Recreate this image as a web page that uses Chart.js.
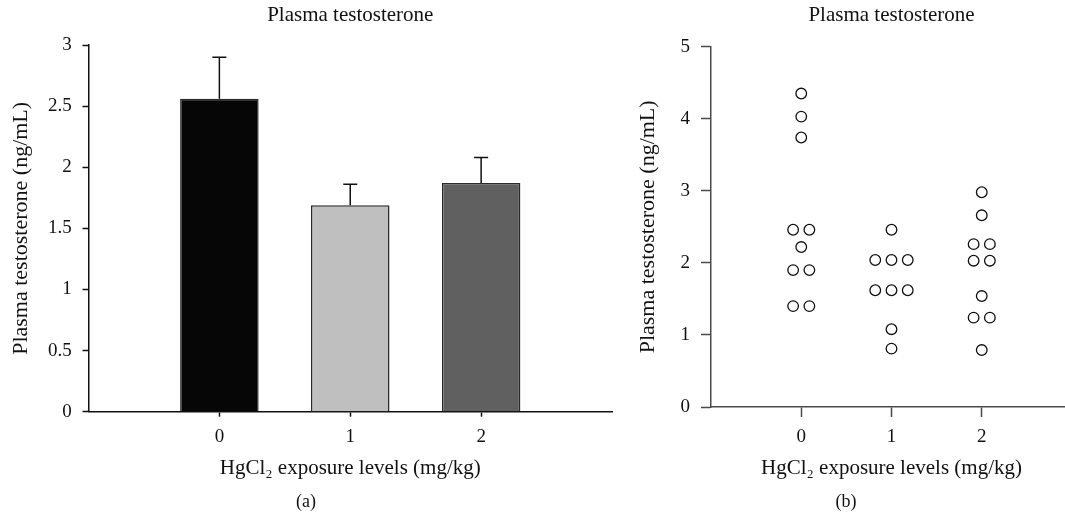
<!DOCTYPE html>
<html>
<head>
<meta charset="utf-8">
<script src="https://cdn.jsdelivr.net/npm/chart.js@4"></script>
<style>
  html, body { margin: 0; padding: 0; background: #fff; overflow: hidden; }
  #wrap { position: relative; width: 1065px; height: 522px; overflow: hidden; }
  #chartA { position: absolute; left: 0; top: 0; }
  #chartB { position: absolute; left: 620px; top: 0; }
</style>
</head>
<body>
<div id="wrap">
  <canvas id="chartA" width="620" height="522"></canvas>
  <canvas id="chartB" width="460" height="522"></canvas>
</div>
<script>
// HgCl2 dose groups (mg/kg)
var levels = [0, 1, 2];

// (a) mean and SE per group
var meanValues = [2.56, 1.69, 1.87];
var errorValues = [0.34, 0.17, 0.21];
var yTicksA = [0, 0.5, 1, 1.5, 2, 2.5, 3];

// (b) individual animals per group
var group0 = [4.35, 4.03, 3.74, 2.46, 2.46, 2.22, 1.90, 1.90, 1.40, 1.40];
var group1 = [2.46, 2.04, 2.04, 2.04, 1.62, 1.62, 1.62, 1.08, 0.81];
var group2 = [2.98, 2.66, 2.26, 2.26, 2.03, 2.03, 1.54, 1.24, 1.24, 0.79];
var yTicksB = [0, 1, 2, 3, 4, 5];

Chart.defaults.font.family = "'Liberation Serif', 'DejaVu Serif', serif";
Chart.defaults.color = '#1a1a1a';

function fixedTicks(values) {
  return function (scale) {
    scale.ticks = values.map(function (v) { return { value: v }; });
  };
}

// equal readings are put side by side, like in a dot plot
function spread(values, group, step) {
  return values.map(function (v, i) {
    var same = values.filter(function (w) { return w === v; }).length;
    var k = values.slice(0, i).filter(function (w) { return w === v; }).length;
    return { x: group + (k - (same - 1) / 2) * step, y: v };
  });
}

var errorBars = {
  id: 'errorBars',
  afterDatasetsDraw: function (chart) {
    var ctx = chart.ctx;
    var yScale = chart.scales.y;
    ctx.save();
    ctx.strokeStyle = '#111';
    ctx.lineWidth = 1.5;
    chart.getDatasetMeta(0).data.forEach(function (bar, i) {
      var top = yScale.getPixelForValue(meanValues[i] + errorValues[i]);
      ctx.beginPath();
      ctx.moveTo(bar.x, bar.y);
      ctx.lineTo(bar.x, top);
      ctx.moveTo(bar.x - 7, top);
      ctx.lineTo(bar.x + 7, top);
      ctx.stroke();
    });
    ctx.restore();
  }
};

function asText(v) { return String(v); }

new Chart(document.getElementById('chartA'), {
  type: 'bar',
  data: {
    datasets: [{
      data: levels.map(function (l, i) { return { x: l, y: meanValues[i] }; }),
      backgroundColor: ['#060606', '#bfbfbf', '#5f605f'],
      borderColor: '#2a2a2a',
      borderWidth: 1.5,
      barPercentage: 0.6,
      categoryPercentage: 1
    }]
  },
  options: {
    responsive: false,
    animation: false,
    layout: { padding: { left: 0, right: 8, top: 0, bottom: 0 } },
    plugins: {
      legend: { display: false },
      tooltip: { enabled: false },
      title: {
        display: true, text: 'Plasma testosterone', fullSize: false, color: '#111',
        font: { size: 21, weight: 'normal' }, padding: { top: 3, bottom: 16.8 }
      },
      subtitle: {
        display: true, position: 'bottom', text: '(a)', color: '#111',
        font: { size: 18 }, padding: { top: 0, bottom: 9 }
      }
    },
    scales: {
      x: {
        type: 'linear', min: -1, max: 3, offset: false, z: 1,
        afterBuildTicks: fixedTicks(levels),
        afterFit: function (s) { s.height = 79.7; },
        grid: { drawOnChartArea: false, offset: false, tickLength: 5, tickColor: '#111', tickWidth: 1.5 },
        border: { color: '#111', width: 1.5 },
        ticks: { padding: 8.9, color: '#111', font: { size: 19 }, callback: asText },
        title: {
          display: true, text: 'HgCl₂ exposure levels (mg/kg)', color: '#111',
          font: { size: 21 }, padding: { top: 0, bottom: 10.8 }
        }
      },
      y: {
        min: 0, max: 3,
        afterBuildTicks: fixedTicks(yTicksA),
        afterFit: function (s) { s.width = 88.5; },
        grid: { drawOnChartArea: false, tickLength: 6, tickColor: '#111', tickWidth: 1.5 },
        border: { color: '#111', width: 1.5 },
        ticks: { padding: 10.8, color: '#111', font: { size: 19 }, callback: asText },
        title: {
          display: true, text: 'Plasma testosterone (ng/mL)', color: '#111',
          font: { size: 22 }, padding: { top: 8.3, bottom: 0 }
        }
      }
    }
  },
  plugins: [errorBars]
});

new Chart(document.getElementById('chartB'), {
  type: 'scatter',
  data: {
    datasets: [{
      data: [].concat(spread(group0, 0, 0.18), spread(group1, 1, 0.18), spread(group2, 2, 0.18)),
      pointRadius: 5.3,
      pointBorderWidth: 1.3,
      pointBackgroundColor: 'rgba(255,255,255,0)',
      pointBorderColor: '#111'
    }]
  },
  options: {
    responsive: false,
    animation: false,
    layout: { padding: { left: 0, right: 8, top: 0, bottom: 0 } },
    plugins: {
      legend: { display: false },
      tooltip: { enabled: false },
      title: {
        display: true, text: 'Plasma testosterone', fullSize: false, color: '#111',
        font: { size: 21, weight: 'normal' }, padding: { top: 3, bottom: 18.5 }
      },
      subtitle: {
        display: true, position: 'bottom', text: '(b)', color: '#111',
        font: { size: 18 }, padding: { top: 0, bottom: 9 }
      }
    },
    scales: {
      x: {
        type: 'linear', min: -1, max: 3,
        afterBuildTicks: fixedTicks(levels),
        afterFit: function (s) { s.height = 84.4; },
        grid: { drawOnChartArea: false, tickLength: 10, tickColor: '#4a4a4a', tickWidth: 1.5 },
        border: { color: '#4a4a4a', width: 1.5 },
        ticks: { padding: 8.6, color: '#111', font: { size: 19 }, callback: asText },
        title: {
          display: true, text: 'HgCl₂ exposure levels (mg/kg)', color: '#111',
          font: { size: 21 }, padding: { top: 0, bottom: 10.8 }
        }
      },
      y: {
        min: 0, max: 5,
        afterBuildTicks: fixedTicks(yTicksB),
        afterFit: function (s) { s.width = 91; },
        grid: { drawOnChartArea: false, tickLength: 10, tickColor: '#4a4a4a', tickWidth: 1.5 },
        border: { color: '#4a4a4a', width: 1.5 },
        ticks: { padding: 11, color: '#111', font: { size: 19 }, callback: asText },
        title: {
          display: true, text: 'Plasma testosterone (ng/mL)', color: '#111',
          font: { size: 22 }, padding: { top: 15.3, bottom: 0 }
        }
      }
    }
  }
});
</script>
</body>
</html>
